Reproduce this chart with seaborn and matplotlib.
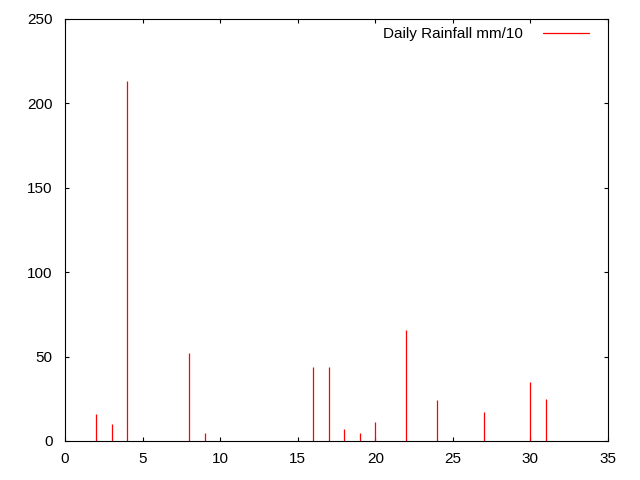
import seaborn as sns
import matplotlib.pyplot as plt
from matplotlib.lines import Line2D

days = [2, 3, 4, 8, 9, 16, 17, 18, 19, 20, 22, 24, 27, 30, 31]
rain = [16, 10, 213, 52, 5, 44, 44, 7, 5, 11.5, 66, 24, 17, 35, 25]

sns.set_style("ticks")
plt.rcParams['font.family'] = ['Liberation Sans', 'DejaVu Sans']
plt.rcParams['text.color'] = 'black'

fig = plt.figure(figsize=(6.4, 4.8), dpi=100)
ax = fig.add_axes([0.1016, 0.08125, 0.8484, 0.8792])

ax.vlines(days, 0, rain, color='red', linewidth=0.9)

ax.set_xlim(0, 35)
ax.set_ylim(0, 250)
ax.set_xticks(range(0, 36, 5))
ax.set_yticks(range(0, 251, 50))
ax.tick_params(direction='in', top=True, right=True, length=3, width=0.8,
               labelsize=11, colors='black')
ax.tick_params(axis='y', pad=9)
ax.tick_params(axis='x', pad=8)
for s in ax.spines.values():
    s.set_visible(True)
    s.set_linewidth(0.8)
    s.set_color('black')

handle = Line2D([], [], color='red', linewidth=0.9)
ax.legend([handle], ['Daily Rainfall mm/10'], loc='upper right', frameon=False,
          markerfirst=False, handlelength=3.0, fontsize=11,
          borderaxespad=0.2, handletextpad=1.3,
          bbox_to_anchor=(1 - 10 / 543, 1 + 1 / 422))

fig.savefig("out.png", dpi=100)
